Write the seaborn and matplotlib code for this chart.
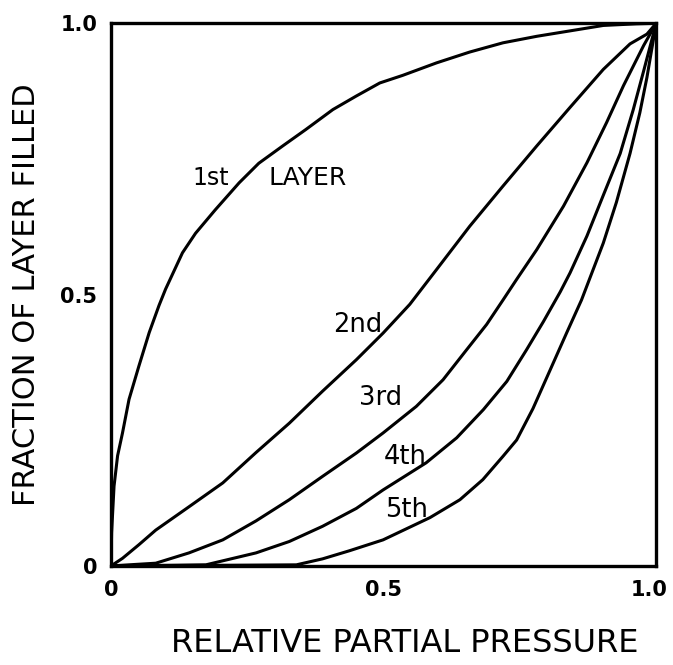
import matplotlib
matplotlib.use("Agg")
import matplotlib.pyplot as plt
import matplotlib.transforms as mtransforms
import seaborn as sns
import pandas as pd

# ---- data ----
layer_names = ["1st", "2nd", "3rd", "4th", "5th"]

x_1st = [0.0, 0.001, 0.0055, 0.012, 0.021, 0.033, 0.051, 0.07, 0.088, 0.1, 0.131, 0.155, 0.191,
         0.235, 0.271, 0.315, 0.357, 0.407, 0.45, 0.493, 0.535, 0.597, 0.658, 0.719, 0.781,
         0.842, 0.903, 0.964, 1.0]
y_1st = [0.0, 0.061, 0.147, 0.203, 0.245, 0.307, 0.368, 0.43, 0.48, 0.51, 0.577, 0.613, 0.656,
         0.706, 0.742, 0.774, 0.804, 0.841, 0.866, 0.89, 0.904, 0.927, 0.947, 0.964, 0.976,
         0.986, 0.996, 0.999, 1.0]

x_2nd = [0.0, 0.021, 0.051, 0.082, 0.143, 0.205, 0.266, 0.327, 0.388, 0.45, 0.499, 0.548,
         0.597, 0.658, 0.719, 0.781, 0.842, 0.903, 0.952, 0.983, 1.0]
y_2nd = [0.0, 0.014, 0.039, 0.066, 0.109, 0.153, 0.209, 0.263, 0.322, 0.38, 0.429, 0.482,
         0.546, 0.626, 0.7, 0.774, 0.845, 0.915, 0.962, 0.98, 1.0]

x_3rd = [0.0, 0.082, 0.143, 0.205, 0.266, 0.327, 0.388, 0.45, 0.499, 0.56, 0.609, 0.652,
         0.689, 0.719, 0.744, 0.781, 0.83, 0.873, 0.909, 0.94, 0.977, 1.0]
y_3rd = [0.0, 0.005, 0.024, 0.048, 0.083, 0.122, 0.165, 0.208, 0.245, 0.294, 0.343, 0.398,
         0.445, 0.49, 0.528, 0.583, 0.663, 0.743, 0.817, 0.885, 0.959, 1.0]

x_4th = [0.0, 0.174, 0.266, 0.327, 0.388, 0.45, 0.499, 0.578, 0.634, 0.683, 0.726, 0.762,
         0.793, 0.824, 0.842, 0.873, 0.903, 0.934, 0.958, 0.977, 1.0]
y_4th = [0.0, 0.002, 0.024, 0.045, 0.073, 0.106, 0.14, 0.19, 0.236, 0.288, 0.34, 0.398,
         0.45, 0.505, 0.54, 0.608, 0.683, 0.76, 0.841, 0.912, 1.0]

x_5th = [0.0, 0.34, 0.388, 0.4375, 0.499, 0.585, 0.64, 0.682, 0.719, 0.744, 0.774, 0.805,
         0.836, 0.863, 0.903, 0.927, 0.952, 0.97, 0.983, 1.0]
y_5th = [0.0, 0.002, 0.013, 0.028, 0.048, 0.089, 0.122, 0.159, 0.202, 0.232, 0.29, 0.36,
         0.43, 0.49, 0.595, 0.67, 0.76, 0.835, 0.9, 1.0]

tick_values = [0.0, 0.5, 1.0]
x_tick_labels = ["0", "0.5", "1.0"]
y_tick_labels = ["0", "0.5", "1.0"]

x_label = "RELATIVE PARTIAL PRESSURE"
y_label = "FRACTION OF LAYER FILLED"

# ---- build long table ----
xs = [x_1st, x_2nd, x_3rd, x_4th, x_5th]
ys = [y_1st, y_2nd, y_3rd, y_4th, y_5th]
frames = []
for name, xv, yv in zip(layer_names, xs, ys):
    frames.append(pd.DataFrame({"p": xv, "frac": yv, "layer": name}))
df = pd.concat(frames, ignore_index=True)

sns.set_style("white")
plt.rcParams["font.family"] = ["DejaVu Sans"]
plt.rcParams["text.color"] = "black"
plt.rcParams["axes.labelcolor"] = "black"
plt.rcParams["xtick.color"] = "black"
plt.rcParams["ytick.color"] = "black"

fig = plt.figure(figsize=(6.73, 6.65), dpi=100)
ax = fig.add_axes([0.165, 0.149, 0.81, 0.816])

sns.lineplot(data=df, x="p", y="frac", hue="layer",
             palette=["black"] * 5, sort=False, estimator=None,
             legend=False, linewidth=2.2, ax=ax)
for ln in ax.get_lines():
    ln.set_solid_joinstyle("round")
    ln.set_solid_capstyle("round")

ax.set_xlim(0, 1)
ax.set_ylim(0, 1)
for s in ax.spines.values():
    s.set_linewidth(2.4)
    s.set_color("black")

ax.set_xticks(tick_values)
ax.set_xticklabels(x_tick_labels, fontsize=15, fontweight="bold")
ax.set_yticks(tick_values)
ax.set_yticklabels(y_tick_labels, fontsize=15, fontweight="bold")
ax.tick_params(axis="both", direction="in", length=9, width=1.5,
               colors="black", pad=10)

# nudge the last x tick label inwards so it stays inside the canvas
xlabels = ax.get_xticklabels()
xlabels[-1].set_transform(xlabels[-1].get_transform() +
                          mtransforms.ScaledTranslation(-7 / 100, 0, fig.dpi_scale_trans))

ax.set_xlabel(x_label, fontsize=23, color="black")
ax.xaxis.set_label_coords(0.538, -0.115)
ax.set_ylabel(y_label, fontsize=22, labelpad=14, color="black")

# curve labels
ax.text(0.182, 0.715, "1st", fontsize=17, ha="center", va="center", color="black")
ax.text(0.36, 0.715, "LAYER", fontsize=18, ha="center", va="center", color="black")
ax.text(0.453, 0.444, "2nd", fontsize=18.5, ha="center", va="center", color="black")
ax.text(0.495, 0.309, "3rd", fontsize=18.5, ha="center", va="center", color="black")
ax.text(0.539, 0.2, "4th", fontsize=18.5, ha="center", va="center", color="black")
ax.text(0.543, 0.103, "5th", fontsize=18.5, ha="center", va="center", color="black")

ax.grid(False)
fig.savefig("out.png", dpi=100)
